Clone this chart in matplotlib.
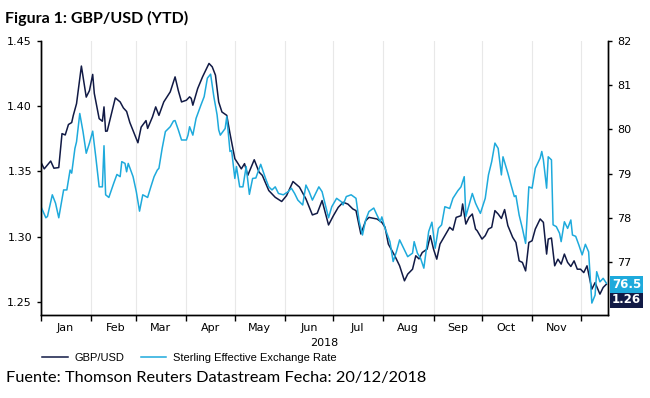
import numpy as np
import pandas as pd
import matplotlib
matplotlib.use("Agg")
import matplotlib.pyplot as plt
import matplotlib.dates as mdates

# --- data (day of year 2018, value) ---
gbp_day = [0, 2, 6, 8, 11, 13, 15, 17, 19, 20, 22, 25, 28, 30, 32, 33, 36, 38, 39, 40,
           41, 46, 49, 51, 53, 55, 60, 62, 65, 66, 69, 71, 73, 76, 80, 83, 85, 87, 90, 92,
           93, 94, 97, 100, 104, 106, 108, 110, 112, 115, 117, 120, 122, 124, 126, 128, 132, 135, 137, 141,
           145, 149, 152, 156, 160, 164, 168, 171, 174, 178, 181, 184, 187, 190, 193, 195, 198, 201, 203, 208,
           211, 213, 215, 219, 222, 225, 227, 230, 232, 234, 236, 239, 241, 243, 245, 247, 250, 253, 255, 257,
           260, 261, 263, 265, 267, 269, 270, 273, 275, 277, 279, 281, 283, 285, 287, 289, 292, 294, 296, 298,
           300, 302, 304, 306, 309, 311, 313, 314, 316, 318, 320, 322, 324, 326, 328, 330, 332, 334, 336, 338,
           341, 343, 346, 348, 350]
gbp_usd = [1.357, 1.352, 1.358, 1.3525, 1.353, 1.379, 1.378, 1.386, 1.3875, 1.393, 1.402, 1.4308, 1.407, 1.412, 1.4244, 1.4098, 1.3905, 1.3885, 1.3995, 1.3808,
           1.381, 1.4064, 1.4033, 1.3987, 1.396, 1.3875, 1.372, 1.384, 1.389, 1.383, 1.3918, 1.3995, 1.393, 1.4033, 1.411, 1.4225, 1.412, 1.4033, 1.4046, 1.4072,
           1.406, 1.4008, 1.4136, 1.4225, 1.4328, 1.4302, 1.4238, 1.4033, 1.3956, 1.393, 1.379, 1.3598, 1.356, 1.352, 1.356, 1.347, 1.359, 1.3495, 1.347, 1.3354,
           1.3302, 1.327, 1.3315, 1.3423, 1.338, 1.329, 1.3167, 1.318, 1.3277, 1.309, 1.3161, 1.3225, 1.3264, 1.325, 1.3213, 1.320, 1.3021, 1.3123, 1.3148, 1.3136,
           1.311, 1.3072, 1.2944, 1.2854, 1.2777, 1.2662, 1.2713, 1.2751, 1.2854, 1.283, 1.2879, 1.2905, 1.3008, 1.2905, 1.2828, 1.2944, 1.3008, 1.3072, 1.305, 1.3148,
           1.3161, 1.3251, 1.3097, 1.3148, 1.3174, 1.3059, 1.3046, 1.2982, 1.3008, 1.3059, 1.3072, 1.32, 1.3174, 1.314, 1.3208, 1.3085, 1.2995, 1.2956, 1.2815, 1.2803,
           1.2738, 1.2956, 1.2969, 1.3059, 1.3136, 1.311, 1.2867, 1.2982, 1.299, 1.2777, 1.2828, 1.279, 1.2867, 1.2803, 1.2772, 1.2815, 1.2751, 1.2751, 1.2725, 1.2777,
           1.2598, 1.2648, 1.256, 1.2611, 1.2636]

eer_day = [0, 3, 4, 7, 9, 11, 14, 16, 18, 19, 21, 22, 24, 26, 28, 30, 32, 34, 36, 38,
           39, 40, 42, 45, 47, 49, 50, 52, 53, 54, 57, 59, 61, 63, 66, 68, 70, 72, 73, 75,
           77, 80, 82, 83, 85, 87, 90, 91, 92, 94, 96, 99, 101, 103, 105, 107, 109, 110, 111, 114,
           115, 117, 118, 120, 121, 123, 125, 127, 129, 131, 133, 136, 139, 141, 143, 145, 147, 150, 153, 155,
           157, 159, 162, 164, 166, 168, 172, 174, 176, 178, 180, 183, 186, 187, 189, 192, 195, 197, 199, 201,
           203, 206, 208, 210, 211, 213, 216, 218, 220, 222, 224, 227, 230, 231, 233, 235, 237, 240, 242, 244,
           246, 248, 250, 253, 255, 258, 260, 262, 263, 265, 267, 269, 270, 272, 275, 277, 279, 281, 283, 285,
           286, 289, 291, 293, 294, 296, 298, 300, 302, 304, 306, 309, 310, 311, 313, 314, 316, 317, 319, 321,
           322, 324, 326, 328, 329, 331, 333, 335, 337, 339, 341, 343, 344, 346, 348, 350]
sterling_eer = [78.25, 78.0, 78.03, 78.52, 78.33, 78.0, 78.63, 78.63, 79.08, 79.01, 79.57, 79.72, 80.36, 79.95, 79.46, 79.69, 79.96, 79.35, 78.70, 78.70,
                79.63, 78.52, 78.46, 78.78, 78.98, 78.93, 79.27, 79.23, 79.04, 79.23, 78.93, 78.59, 78.15, 78.52, 78.46, 78.70, 78.93, 79.08, 79.12, 79.57,
                79.95, 80.06, 80.19, 80.2, 79.99, 79.76, 79.76, 79.87, 80.06, 79.87, 80.25, 80.55, 80.74, 81.16, 81.25, 80.74, 80.33, 79.99, 79.87, 80.02,
                80.29, 79.50, 79.52, 78.89, 79.16, 78.70, 78.70, 79.16, 78.53, 78.89, 78.9, 79.21, 78.89, 78.70, 78.63, 78.70, 78.55, 78.52, 78.59, 78.67,
                78.55, 78.40, 78.29, 78.74, 78.59, 78.40, 78.70, 78.59, 78.29, 78.0, 78.25, 78.44, 78.36, 78.29, 78.48, 78.52, 78.44, 77.91, 77.61, 77.95,
                78.14, 78.22, 78.06, 77.91, 78.02, 77.76, 77.46, 77.01, 77.23, 77.50, 77.35, 77.12, 77.20, 77.46, 77.20, 77.08, 76.86, 77.69, 77.90, 77.31,
                77.76, 77.84, 78.25, 78.21, 78.44, 78.61, 78.70, 78.93, 78.03, 78.29, 78.55, 78.33, 78.25, 78.10, 78.44, 78.97, 79.27, 79.69, 79.57, 78.97,
                79.38, 79.01, 78.74, 78.48, 78.5, 78.06, 77.76, 77.42, 78.70, 78.67, 79.12, 79.35, 79.50, 79.31, 78.67, 79.38, 79.31, 77.84, 77.80, 77.65,
                77.46, 77.91, 77.76, 77.95, 77.61, 77.58, 77.38, 77.16, 77.40, 77.23, 76.07, 76.25, 76.78, 76.55, 76.63, 76.52]

NAVY = "#111a45"
BLUE = "#1eaadc"

start = pd.Timestamp("2018-01-01")
gbp_dates = start + pd.to_timedelta(gbp_day, unit="D")
eer_dates = start + pd.to_timedelta(eer_day, unit="D")

fig = plt.figure(figsize=(6.5, 3.98), dpi=100)
ax = fig.add_axes([41 / 650, 83 / 398, 567 / 650, 274 / 398])
ax2 = ax.twinx()

ax.plot(gbp_dates, gbp_usd, color=NAVY, lw=1.1, label="GBP/USD")
ax2.plot(eer_dates, sterling_eer, color=BLUE, lw=1.1, label="Sterling Effective Exchange Rate")

ax.set_xlim(start, start + pd.Timedelta(days=351))
ax.set_ylim(1.24, 1.45)
ax2.set_ylim(75.8, 82)
ax.set_yticks([1.25, 1.30, 1.35, 1.40, 1.45])
ax.set_yticklabels([f"{v:.2f}" for v in [1.25, 1.30, 1.35, 1.40, 1.45]])
ax2.set_yticks([77, 78, 79, 80, 81, 82])

# limites de mes = ticks mayores, etiquetas a mitad de mes (Jan..Nov)
ax.xaxis.set_major_locator(mdates.MonthLocator())
ax.xaxis.set_major_formatter(plt.NullFormatter())
ax.xaxis.set_minor_locator(mdates.MonthLocator(bymonth=range(1, 12), bymonthday=16))
ax.xaxis.set_minor_formatter(mdates.DateFormatter("%b"))
ax.tick_params(axis="x", which="minor", length=0, labelsize=8, pad=6)
ax.tick_params(axis="x", which="major", length=4, width=1)
ax.tick_params(axis="y", length=3, width=1, labelsize=8)
ax2.tick_params(axis="y", length=3, width=1, labelsize=8)
ax.grid(axis="x", which="major", color="#e8e8e8", lw=0.8)

for a in (ax, ax2):
    a.spines["top"].set_visible(False)
    for s in ("left", "right", "bottom"):
        a.spines[s].set_linewidth(1.0)
        a.spines[s].set_color("black")

ax.set_xlabel("2018", fontsize=8, labelpad=3)

# etiquetas con el ultimo valor
ax2.annotate(f"{sterling_eer[-1]:.1f}", xy=(1, sterling_eer[-1]), xycoords=("axes fraction", "data"),
             xytext=(3, -1), textcoords="offset points", va="center", ha="left",
             color="white", fontsize=8.5, fontweight="bold",
             bbox=dict(boxstyle="square,pad=0.15", fc=BLUE, ec="none"))
ax.annotate(f"{gbp_usd[-1]:.2f}", xy=(1, gbp_usd[-1]), xycoords=("axes fraction", "data"),
            xytext=(3, -11), textcoords="offset points", va="center", ha="left",
            color="white", fontsize=8.5, fontweight="bold",
            bbox=dict(boxstyle="square,pad=0.15", fc=NAVY, ec="none"))

h1, l1 = ax.get_legend_handles_labels()
h2, l2 = ax2.get_legend_handles_labels()
fig.legend(h1 + h2, l1 + l2, loc="center left", bbox_to_anchor=(42 / 650, 1 - 358 / 398),
           ncol=2, frameon=False, borderpad=0, borderaxespad=0, handlelength=2.3,
           handletextpad=0.6, columnspacing=1.5, prop={"family": "Liberation Sans", "size": 8})

fig.text(5 / 650, 1 - 18 / 398, "Figura 1: GBP/USD (YTD)", fontsize=11.5, fontweight="bold",
         family="Lato", va="center", ha="left")
fig.text(6 / 650, 1 - 378 / 398, "Fuente: Thomson Reuters Datastream Fecha: 20/12/2018",
         fontsize=11.8, family="Lato", va="center", ha="left")

fig.savefig("out.png", dpi=100)
